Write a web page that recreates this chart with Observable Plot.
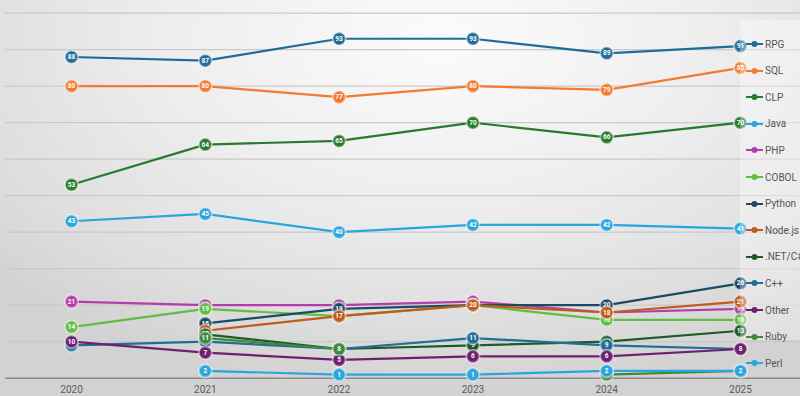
<!DOCTYPE html>
<html>
<head>
<meta charset="utf-8">
<script src="https://cdn.jsdelivr.net/npm/d3@7"></script>
<script src="https://cdn.jsdelivr.net/npm/@observablehq/plot@0.6"></script>
<style>
  html, body { margin: 0; padding: 0; }
  body { width: 800px; height: 396px; overflow: hidden; font-family: Roboto, "Liberation Sans", sans-serif; }
  #wrap { position: relative; width: 800px; height: 396px;
    background: radial-gradient(ellipse 75% 90% at 55% 10%, #fbfbfb 0%, #eeeeee 45%, #dedede 80%, #d2d2d2 100%); }
  #legend { position: absolute; left: 740px; top: 20px; width: 60px; height: 320px; background: rgba(255,255,255,0.35); }
  .item { position: absolute; left: 6px; height: 14px; display: flex; align-items: center; font-size: 10px; color: #555; white-space: nowrap; }
  .item svg { margin-right: 2px; }
</style>
</head>
<body>
<div id="wrap"><div id="chart"></div><div id="legend"></div></div>
<script>
const years = [2020, 2021, 2022, 2023, 2024, 2025];
const seriesNames = ["RPG", "SQL", "CLP", "Java", "PHP", "COBOL", "Python", "Node.js", ".NET/C#", "C++", "Other", "Ruby", "Perl"];
const seriesColors = ["#1f6d96", "#f27b31", "#2a7a2e", "#2aa5dd", "#b43daa", "#63bd45", "#1c4a64", "#c05a1d", "#1e5a27", "#1f6f96", "#6c216f", "#3e8a38", "#2aa5dd"];

const rpg    = [88, 87, 93, 93, 89, 91];
const sql    = [80, 80, 77, 80, 79, 85];
const clp    = [53, 64, 65, 70, 66, 70];
const java   = [43, 45, 40, 42, 42, 41];
const php    = [21, 20, 20, 21, 18, 19];
const cobol  = [14, 19, 17, 20, 16, 16];
const python = [null, 15, 19, 20, 20, 26];
const nodejs = [null, 13, 17, 20, 18, 21];
const dotnet = [null, 12, 8, 9, 10, 13];
const cpp    = [9, 10, 8, 11, 9, 8];
const other  = [10, 7, 5, 6, 6, 8];
const ruby   = [null, 11, 8, null, 1, 2];
const perl   = [null, 2, 1, 1, 2, 2];

const seriesValues = [rpg, sql, clp, java, php, cobol, python, nodejs, dotnet, cpp, other, ruby, perl];
const gridTicks = [10, 20, 30, 40, 50, 60, 70, 80, 90, 100];

const rows = [];
seriesNames.forEach((name, i) => {
  years.forEach((yr, j) => rows.push({series: name, year: yr, value: seriesValues[i][j]}));
});

const marks = [
  Plot.gridY(gridTicks, {stroke: "#c9c9c9", strokeOpacity: 1, strokeWidth: 1.2}),
  Plot.ruleY([0], {stroke: "#8a8a8a", strokeWidth: 1.5}),
  Plot.axisX({ticks: years, tickFormat: "d", tickSize: 0, tickPadding: 8, fontSize: 10, fill: "#5a5a5a", label: null}),
];
seriesNames.forEach((name) => {
  const d = rows.filter(r => r.series === name);
  const pts = d.filter(r => r.value != null);
  marks.push(
    Plot.line(d, {x: "year", y: "value", stroke: "series", strokeWidth: 2.2, curve: "linear"}),
    Plot.dot(pts, {x: "year", y: "value", fill: "series", r: 6.5, stroke: "white", strokeOpacity: 0.45, strokeWidth: 2}),
    Plot.text(pts, {x: "year", y: "value", text: d => String(d.value), fill: "white", fontSize: 6.5, fontWeight: "bold"})
  );
});

const chart = Plot.plot({
  width: 800,
  height: 396,
  marginLeft: 5,
  marginRight: 0,
  marginTop: 12.7,
  marginBottom: 18.3,
  style: {background: "transparent", fontFamily: "Roboto, 'Liberation Sans', sans-serif", overflow: "visible"},
  x: {domain: [2020, 2025], range: [71, 740], axis: null},
  y: {domain: [0, 100], axis: null},
  color: {domain: seriesNames, range: seriesColors},
  marks
});
document.getElementById("chart").appendChild(chart);

const legend = document.getElementById("legend");
seriesNames.forEach((name, i) => {
  const item = document.createElement("div");
  item.className = "item";
  item.style.top = (24 + i * 26.6 - 7) + "px";
  const c = seriesColors[i];
  item.innerHTML = `<svg width="17" height="8"><line x1="0" y1="4" x2="17" y2="4" stroke="${c}" stroke-width="2"/><circle cx="8.5" cy="4" r="3" fill="${c}"/></svg><span>${name}</span>`;
  legend.appendChild(item);
});
</script>
</body>
</html>
